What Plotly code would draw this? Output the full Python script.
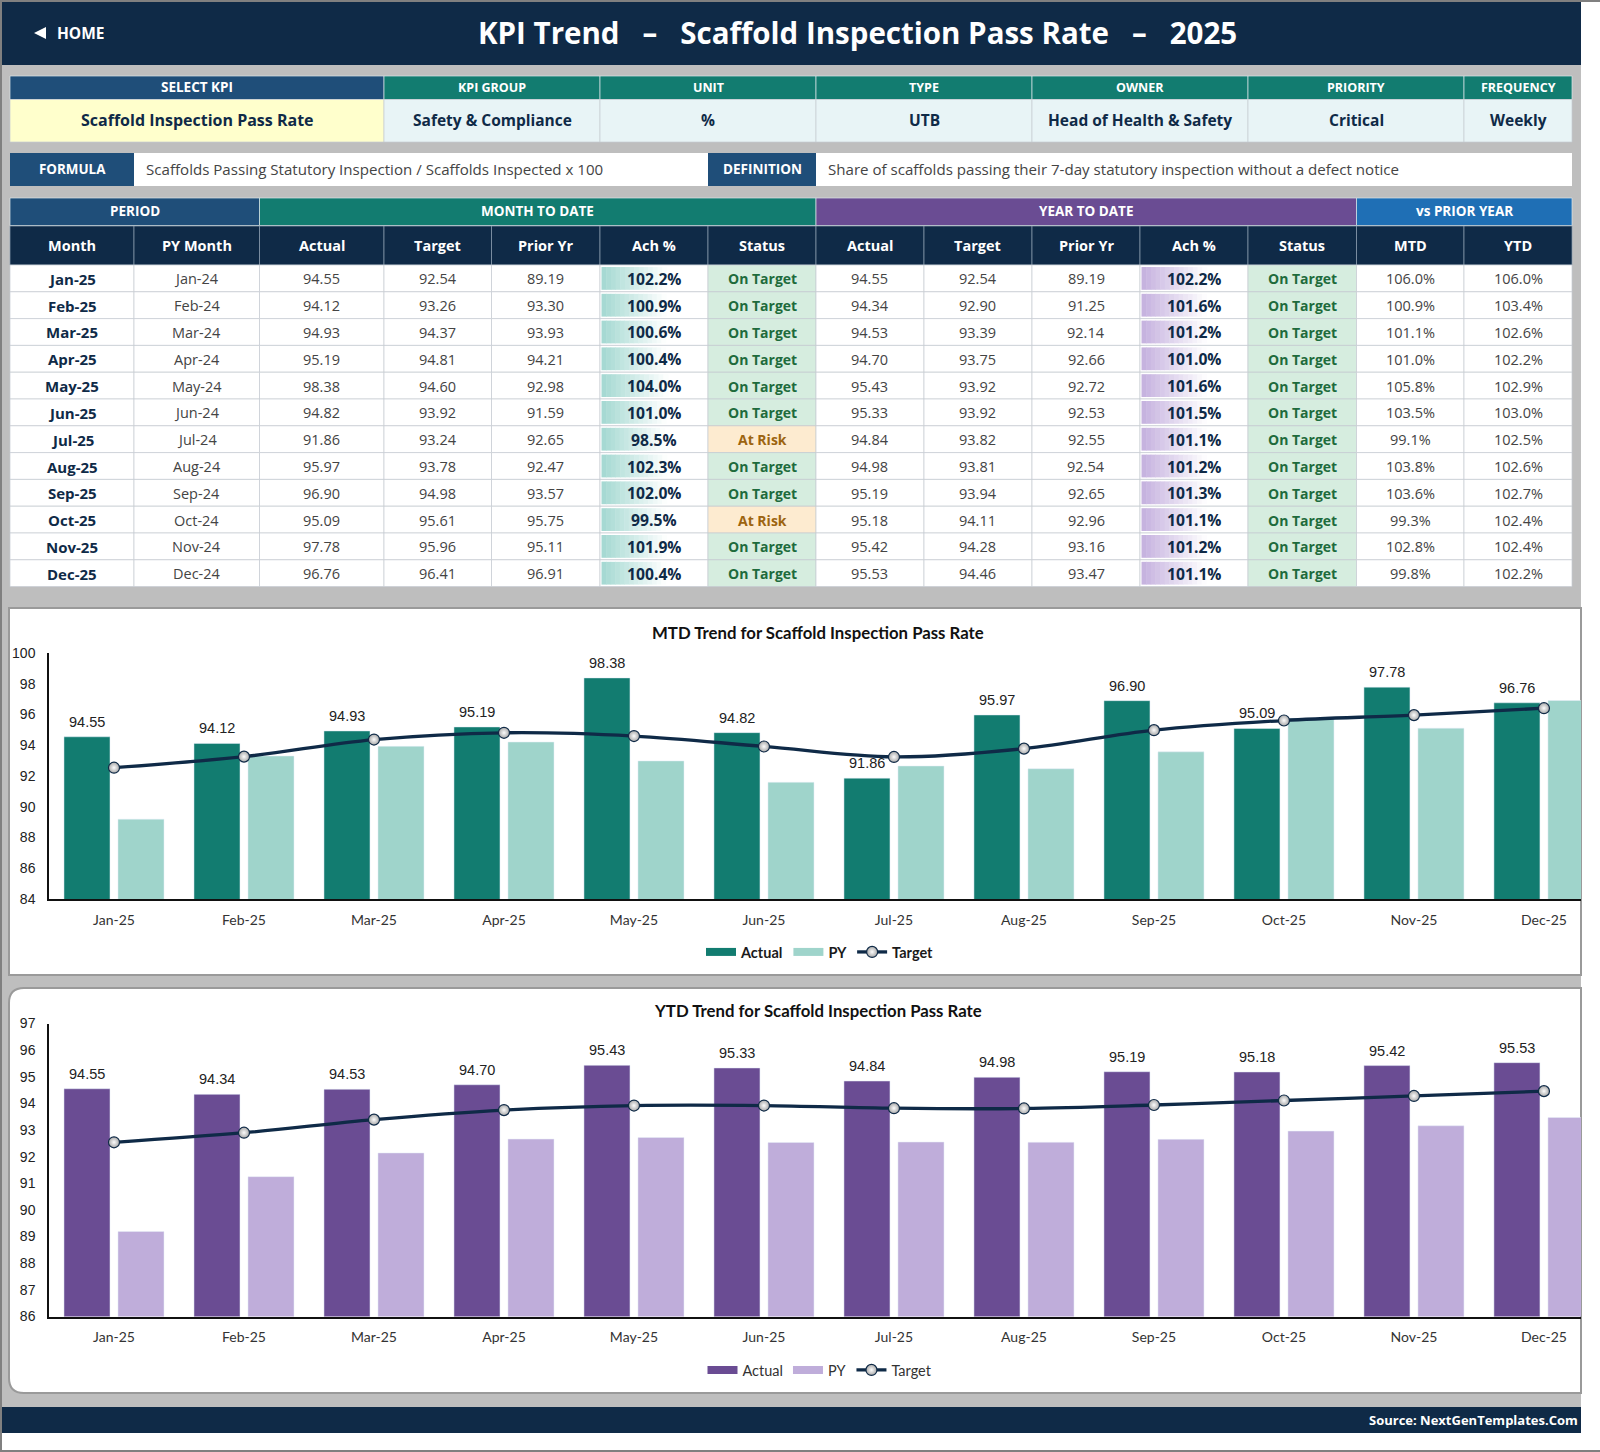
import plotly.graph_objects as go

W = 1600
H = 1452

months = ["Jan-25", "Feb-25", "Mar-25", "Apr-25", "May-25", "Jun-25", "Jul-25", "Aug-25", "Sep-25", "Oct-25", "Nov-25", "Dec-25"]
py_months = ["Jan-24", "Feb-24", "Mar-24", "Apr-24", "May-24", "Jun-24", "Jul-24", "Aug-24", "Sep-24", "Oct-24", "Nov-24", "Dec-24"]

mtd_actual = [94.55, 94.12, 94.93, 95.19, 98.38, 94.82, 91.86, 95.97, 96.90, 95.09, 97.78, 96.76]
mtd_target = [92.54, 93.26, 94.37, 94.81, 94.60, 93.92, 93.24, 93.78, 94.98, 95.61, 95.96, 96.41]
mtd_py = [89.19, 93.30, 93.93, 94.21, 92.98, 91.59, 92.65, 92.47, 93.57, 95.75, 95.11, 96.91]
mtd_ach = [102.2, 100.9, 100.6, 100.4, 104.0, 101.0, 98.5, 102.3, 102.0, 99.5, 101.9, 100.4]
mtd_status = ["On Target"] * 6 + ["At Risk"] + ["On Target"] * 2 + ["At Risk"] + ["On Target"] * 2

ytd_actual = [94.55, 94.34, 94.53, 94.70, 95.43, 95.33, 94.84, 94.98, 95.19, 95.18, 95.42, 95.53]
ytd_target = [92.54, 92.90, 93.39, 93.75, 93.92, 93.92, 93.82, 93.81, 93.94, 94.11, 94.28, 94.46]
ytd_py = [89.19, 91.25, 92.14, 92.66, 92.72, 92.53, 92.55, 92.54, 92.65, 92.96, 93.16, 93.47]
ytd_ach = [102.2, 101.6, 101.2, 101.0, 101.6, 101.5, 101.1, 101.2, 101.3, 101.1, 101.2, 101.1]
ytd_status = ["On Target"] * 12

vs_py_mtd = [106.0, 100.9, 101.1, 101.0, 105.8, 103.5, 99.1, 103.8, 103.6, 99.3, 102.8, 99.8]
vs_py_ytd = [106.0, 103.4, 102.6, 102.2, 102.9, 103.0, 102.5, 102.6, 102.7, 102.4, 102.4, 102.2]

info_heads = ["SELECT KPI", "KPI GROUP", "UNIT", "TYPE", "OWNER", "PRIORITY", "FREQUENCY"]
info_vals = ["Scaffold Inspection Pass Rate", "Safety & Compliance", "%", "UTB", "Head of Health & Safety", "Critical", "Weekly"]
col_heads = ["Month", "PY Month", "Actual", "Target", "Prior Yr", "Ach %", "Status", "Actual", "Target", "Prior Yr", "Ach %", "Status", "MTD", "YTD"]

NAVY = "#0F2A47"
BLUE = "#1F4E79"
TEAL = "#127C70"
TEAL_L = "#9FD4CB"
PURPLE = "#6A4C93"
PURPLE_L = "#BFADDA"
VSBLUE = "#1F6FB5"
PAGE = "#BEBEBE"
GRID = "#C6CCD3"
UI = "Open Sans"
CHART_FONT = "Lato"
NUM_FONT = "Liberation Sans"

edges = [10, 134, 259.5, 384, 491.5, 600, 708, 816, 924, 1032, 1140, 1248, 1356.5, 1464, 1572]

shapes = []
notes = []


def px(x):
    return x / W


def py(y):
    return 1 - y / H


def rect(x0, y0, x1, y1, fill, line=None, lw=1):
    shapes.append(dict(type="rect", xref="paper", yref="paper", layer="below",
                       x0=px(x0), x1=px(x1), y0=py(y0), y1=py(y1), fillcolor=fill,
                       line=dict(color=line, width=lw) if line else dict(width=0)))


def label(x, y, text, size=14, color="#444444", bold=False, family=UI, anchor="center"):
    notes.append(dict(xref="paper", yref="paper", x=px(x), y=py(y), text=text, showarrow=False,
                      xanchor=anchor, yanchor="middle",
                      font=dict(family=family, size=size, color=color, weight=700 if bold else 400)))


def mix(colour, t):
    # blend a hex colour towards white, t=0 colour, t=1 white
    r, g, b = int(colour[1:3], 16), int(colour[3:5], 16), int(colour[5:7], 16)
    return f"rgb({round(r + (255 - r) * t)},{round(g + (255 - g) * t)},{round(b + (255 - b) * t)})"


def data_bar(x0, y0, y1, value, colour):
    length = value * 0.64
    steps = 14
    for s in range(steps):
        rect(x0 + length * s / steps, y0, x0 + length * (s + 1) / steps + 0.5, y1, mix(colour, (s + 0.5) / steps))


# page
rect(0, 0, W, H, "#FFFFFF")
rect(0, 0, 1581, 1433, PAGE)
rect(0, 0, W, 2, "#808080")
rect(0, 0, 2, H, "#808080")
rect(0, 1450, W, H, "#808080")
rect(2, 2, 1581, 65, NAVY)
rect(2, 1407, 1581, 1433, NAVY)

shapes.append(dict(type="path", xref="paper", yref="paper", layer="below", fillcolor="#FFFFFF", line=dict(width=0),
                   path=f"M {px(34)} {py(33)} L {px(46)} {py(27)} L {px(46)} {py(39)} Z"))
label(55, 33, "HOME", 15.5, "#FFFFFF", True, anchor="left")
label(857.5, 33, "KPI Trend&nbsp;&nbsp;&nbsp;–&nbsp;&nbsp;&nbsp;Scaffold Inspection Pass Rate&nbsp;&nbsp;&nbsp;–&nbsp;&nbsp;&nbsp;2025", 29.5, "#FFFFFF", True)
label(1580, 1420, "Source: NextGenTemplates.Com", 13, "#FFFFFF", True, anchor="right")

# kpi info strip
info_edges = [10, 384, 600, 816, 1032, 1248, 1464, 1572]
for i in range(7):
    x0, x1 = info_edges[i], info_edges[i + 1]
    rect(x0, 76, x1, 99.5, BLUE if i == 0 else TEAL, "#DCE6EA", 0.7)
    rect(x0, 99.5, x1, 142, "#FFFFCC" if i == 0 else "#E8F4F6", GRID, 0.7)
    label((x0 + x1) / 2, 87.5, info_heads[i], 13.5 if i == 0 else 12.5, "#FFFFFF", True)
    label((x0 + x1) / 2, 120, info_vals[i], 16 if i == 0 else 15.5, NAVY, True)

# formula row
rect(10, 153, 134, 186, BLUE)
rect(134, 153, 708, 186, "#FFFFFF")
rect(708, 153, 816, 186, BLUE)
rect(816, 153, 1572, 186, "#FFFFFF")
label(72, 169, "FORMULA", 13.4, "#FFFFFF", True)
label(762, 169, "DEFINITION", 13.5, "#FFFFFF", True)
label(143.5, 168.5, "Scaffolds Passing Statutory Inspection / Scaffolds Inspected x 100", 15.1, anchor="left")
label(825.5, 168.5, "Share of scaffolds passing their 7-day statutory inspection without a defect notice", 15.1, anchor="left")

# table headers
groups = [("PERIOD", 0, 2, BLUE), ("MONTH TO DATE", 2, 7, TEAL), ("YEAR TO DATE", 7, 12, PURPLE), ("vs PRIOR YEAR", 12, 14, VSBLUE)]
for name, a, b, colour in groups:
    rect(edges[a], 198, edges[b], 225.5, colour, "#DCE6EA", 0.7)
    label((edges[a] + edges[b]) / 2, 210.5, name, 13.5, "#FFFFFF", True)
for c, name in enumerate(col_heads):
    rect(edges[c], 226, edges[c + 1], 265, NAVY, "#8FA1B3", 0.7)
    label((edges[c] + edges[c + 1]) / 2, 245, name, 14.5, "#FFFFFF", True)

# table body
row_top = 265
row_h = 26.8
for r in range(12):
    y0 = row_top + r * row_h
    y1 = y0 + row_h
    ym = (y0 + y1) / 2 + 0.5
    cells = [months[r], py_months[r], f"{mtd_actual[r]:.2f}", f"{mtd_target[r]:.2f}", f"{mtd_py[r]:.2f}",
             f"{mtd_ach[r]:.1f}%", mtd_status[r], f"{ytd_actual[r]:.2f}", f"{ytd_target[r]:.2f}", f"{ytd_py[r]:.2f}",
             f"{ytd_ach[r]:.1f}%", ytd_status[r], f"{vs_py_mtd[r]:.1f}%", f"{vs_py_ytd[r]:.1f}%"]
    for c, text in enumerate(cells):
        x0, x1 = edges[c], edges[c + 1]
        xm = (x0 + x1) / 2
        if c in (6, 11):
            good = text == "On Target"
            rect(x0, y0, x1, y1, "#D6EDDF" if good else "#FDEBD0", GRID, 0.7)
            label(xm, ym, text, 14, "#1E6B3C" if good else "#9C6410", True)
            continue
        rect(x0, y0, x1, y1, "#FFFFFF", GRID, 0.7)
        if c == 5:
            data_bar(x0 + 1.5, y0 + 2, y1 - 2, mtd_ach[r], "#A3D8D1")
        if c == 10:
            data_bar(x0 + 1.5, y0 + 2, y1 - 2, ytd_ach[r], "#C4B0DE")
        if c == 0:
            label(xm, ym, text, 15, NAVY, True)
        elif c in (5, 10):
            label(xm, ym, text, 15.7, NAVY, True)
        else:
            label(xm, ym, text, 14.5, "#444444")

# chart cards
rect(9, 608, 1581, 975, "#FFFFFF", "#9A9A9A", 2)
r = 15
shapes.append(dict(type="path", xref="paper", yref="paper", layer="below", fillcolor="#FFFFFF",
                   line=dict(color="#9A9A9A", width=2),
                   path=f"M {px(9 + r)} {py(988)} L {px(1581)} {py(988)} L {px(1581)} {py(1393)} L {px(9 + r)} {py(1393)} "
                        f"Q {px(9)} {py(1393)} {px(9)} {py(1393 - r)} L {px(9)} {py(988 + r)} Q {px(9)} {py(988)} {px(9 + r)} {py(988)} Z"))
label(818, 632.5, "MTD Trend for Scaffold Inspection Pass Rate", 16.75, "#111111", True, CHART_FONT)
label(818, 1011, "YTD Trend for Scaffold Inspection Pass Rate", 16.75, "#111111", True, CHART_FONT)

fig = go.Figure()


def add_chart(n, actual, target, prior, dark, light):
    xa = "x" if n == 1 else f"x{n}"
    ya = "y" if n == 1 else f"y{n}"
    leg = "legend" if n == 1 else f"legend{n}"
    fig.add_trace(go.Bar(x=months, y=actual, name="Actual", marker_color=dark, xaxis=xa, yaxis=ya, showlegend=False))
    fig.add_trace(go.Bar(x=months, y=prior, name="PY", marker_color=light, xaxis=xa, yaxis=ya, showlegend=False))
    # legend keys are drawn wide and flat, so they come from empty line traces
    for name, colour in (("Actual", dark), ("PY", light)):
        fig.add_trace(go.Scatter(x=[months[0]], y=[None], name=name, mode="lines", line=dict(color=colour, width=8),
                                 xaxis=xa, yaxis=ya, legend=leg))
    fig.add_trace(go.Scatter(x=months, y=target, name="Target", mode="lines+markers", xaxis=xa, yaxis=ya, legend=leg,
                             line=dict(color="#0F2A47", width=3.3, shape="spline", smoothing=1),
                             marker=dict(size=11, color="#A8A8A8", line=dict(color="#0F2A47", width=1.2),
                                         gradient=dict(type="radial", color="#FCFCFC"))))
    for m, v in zip(months, actual):
        fig.add_annotation(xref=xa, yref=ya, x=m, y=v, text=f"{v:.2f}", showarrow=False, xshift=-27, yshift=15,
                           font=dict(family=NUM_FONT, size=14.5, color="#222222"))


add_chart(1, mtd_actual, mtd_target, mtd_py, TEAL, TEAL_L)
add_chart(2, ytd_actual, ytd_target, ytd_py, PURPLE, PURPLE_L)

axis_x = dict(type="category", categoryorder="array", categoryarray=months, range=[-0.5, 11.285], domain=[px(49), px(1581)],
              showgrid=False, zeroline=False, showline=True, linecolor="#111111", linewidth=1.5, ticks="",
              ticklabelstandoff=7, tickfont=dict(family=CHART_FONT, size=14, color="#333333"))
axis_y = dict(showgrid=False, zeroline=False, showline=True, linecolor="#111111", linewidth=1.5, ticks="",
              ticklabelstandoff=9, tickfont=dict(family=NUM_FONT, size=14, color="#222222"))

fig.update_layout(
    width=W, height=H, margin=dict(l=0, r=0, t=0, b=0, autoexpand=False), autosize=False,
    paper_bgcolor="#FFFFFF", plot_bgcolor="rgba(0,0,0,0)",
    barmode="group", bargap=0.169, bargroupgap=0.148,
    shapes=shapes, annotations=list(fig.layout.annotations) + notes,
    xaxis=dict(axis_x, anchor="y"),
    yaxis=dict(axis_y, anchor="x", domain=[py(899), py(653)], range=[84, 100], tickvals=list(range(84, 101, 2))),
    xaxis2=dict(axis_x, anchor="y2"),
    yaxis2=dict(axis_y, anchor="x2", domain=[py(1316.5), py(1023.5)], range=[86, 97], tickvals=list(range(86, 98))),
    legend=dict(orientation="h", x=px(820), xanchor="center", y=py(952), yanchor="middle", itemwidth=30,
                bgcolor="rgba(0,0,0,0)", font=dict(family=CHART_FONT, size=14.5, color="#1A1A1A", weight=700)),
    legend2=dict(orientation="h", x=px(820), xanchor="center", y=py(1370), yanchor="middle", itemwidth=30,
                 bgcolor="rgba(0,0,0,0)", font=dict(family=CHART_FONT, size=14.5, color="#333333")),
)

fig.write_html("out.html", config={"displayModeBar": False}, post_script="document.body.style.margin='0';")
